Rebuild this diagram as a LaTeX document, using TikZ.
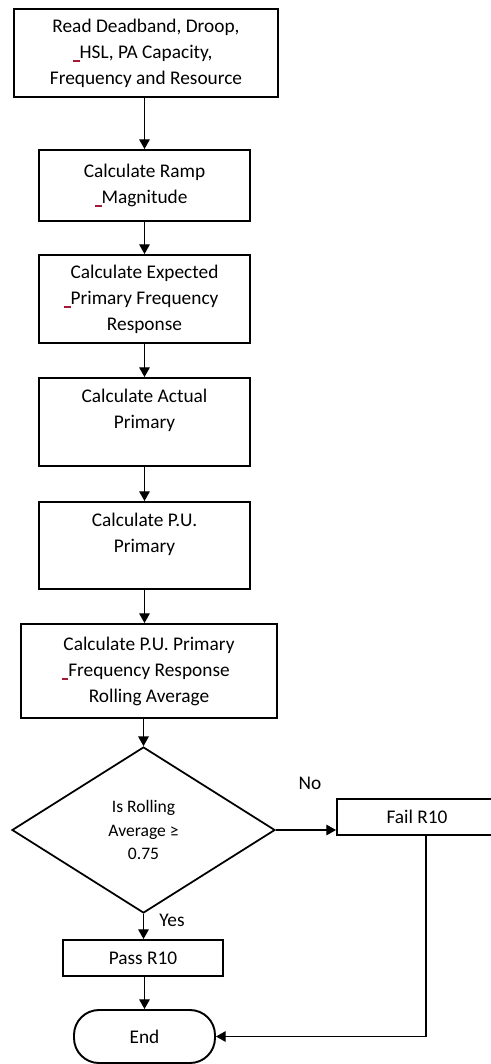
\documentclass[tikz,border=0pt]{standalone}
\usepackage{fontspec}
\setmainfont{Carlito}
\usetikzlibrary{arrows.meta,shapes.geometric}

\definecolor{spellred}{RGB}{165,25,55}
\newcommand{\spellmark}{\llap{\textcolor{spellred}{\rule[-2pt]{3.5pt}{0.9pt}}}}

\tikzset{
  procbox/.style={draw,line width=1.1pt,align=center,inner sep=2pt,
    font=\fontsize{11}{14.8}\selectfont},
  flowline/.style={-{Triangle[length=5.5pt,width=6pt]},line width=0.7pt},
}

\begin{document}
\begin{tikzpicture}
  \useasboundingbox (0,0) rectangle (9.8,-21.28);
  \node[procbox,minimum width=5.28cm,minimum height=1.76cm] (read) at (2.92,-1.06)
    {Read Deadband, Droop,\\\spellmark HSL, PA Capacity,\\Frequency and Resource};
  \node[procbox,minimum width=4.22cm,minimum height=1.42cm] (ramp) at (2.89,-3.71)
    {Calculate Ramp\\\spellmark Magnitude};
  \node[procbox,minimum width=4.22cm,minimum height=1.76cm] (expected) at (2.89,-5.98)
    {Calculate Expected\\\spellmark Primary Frequency\\Response};
  \node[procbox,minimum width=4.22cm,minimum height=1.76cm] (actual) at (2.89,-8.44)
    {Calculate Actual\\Primary\\~};
  \node[procbox,minimum width=4.22cm,minimum height=1.74cm] (pu) at (2.89,-10.91)
    {Calculate P.U.\\Primary\\~};
  \node[procbox,minimum width=5.12cm,minimum height=1.88cm] (avg) at (2.98,-13.42)
    {Calculate P.U. Primary\\\spellmark Frequency Response\\Rolling Average};
  \node[draw,diamond,line width=1pt,aspect=1.6,inner sep=0pt,align=center,
    minimum width=5.26cm,minimum height=3.32cm,
    font=\fontsize{10}{13.4}\selectfont] (check) at (2.87,-16.6)
    {Is Rolling\\Average ≥\\0.75};
  \node[procbox,minimum width=3.2cm,minimum height=0.72cm] (fail) at (8.34,-16.34) {Fail R10};
  \node[procbox,minimum width=3.2cm,minimum height=0.72cm] (pass) at (2.86,-19.16) {Pass R10};
  \node[procbox,rounded corners=0.5cm,minimum width=2.82cm,minimum height=1.06cm] (done) at (2.89,-20.73) {End};

  \draw[flowline] (read.south -| ramp) -- (ramp.north);
  \draw[flowline] (ramp) -- (expected);
  \draw[flowline] (expected) -- (actual);
  \draw[flowline] (actual) -- (pu);
  \draw[flowline] (pu) -- (avg.north -| pu);
  \draw[flowline] (avg.south -| check) -- (check.north);
  \draw[flowline] (check.south) -- (check.south |- pass.north);
  \draw[flowline] (pass.south -| done) -- (done.north);
  \draw[flowline] (check.east) -- (check.east -| fail.west);
  \coordinate (corner) at (8.52,-20.73);
  \draw[flowline,line width=0.6pt] (fail.south -| corner) -- (corner) -- (done.east);

  \node[font=\fontsize{11}{13}\selectfont] (no) at (6.2,-15.66) {No};
  \node[font=\fontsize{11}{13}\selectfont] (yes) at (3.44,-18.4) {Yes};
\end{tikzpicture}
\end{document}
